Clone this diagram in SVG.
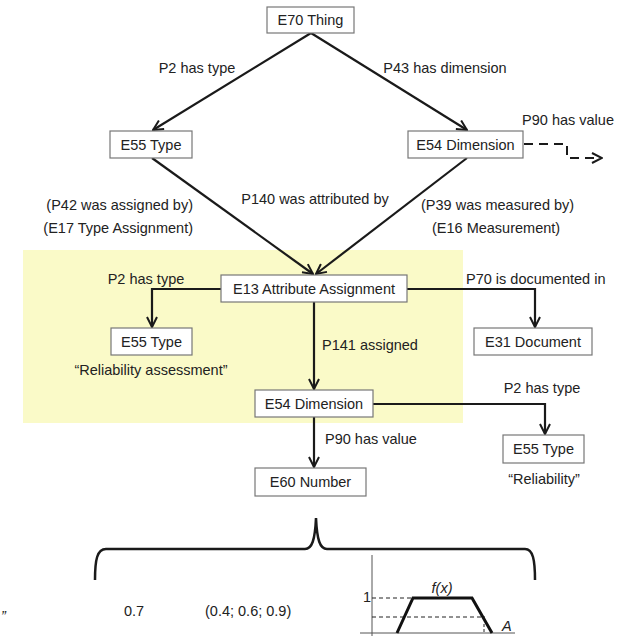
<svg xmlns="http://www.w3.org/2000/svg" width="627" height="636" viewBox="0 0 627 636">
<style>
text{font-family:"Liberation Sans",Arial,sans-serif;font-size:14.5px;fill:#222}
.box{fill:#fff;stroke:#777;stroke-width:1.2}
.c{text-anchor:middle}
.e{text-anchor:end}
.ln{fill:none;stroke:#1a1a1a;stroke-width:2.2}
.dash{fill:none;stroke:#1a1a1a;stroke-width:2;stroke-dasharray:9,6}
</style>
<defs>
<marker id="arr" viewBox="0 0 12 12" refX="11" refY="6" markerWidth="12" markerHeight="12" orient="auto" markerUnits="userSpaceOnUse">
<path d="M1,1 L11,6 L1,11" fill="none" stroke="#1a1a1a" stroke-width="2"/>
</marker>
</defs>
<rect width="627" height="636" fill="#fff"/>
<rect x="23" y="250" width="440" height="173" fill="#fafac8"/>

<g id="connectors">
<line class="ln" x1="311" y1="33" x2="153" y2="130" marker-end="url(#arr)"/>
<line class="ln" x1="311" y1="33" x2="467" y2="130" marker-end="url(#arr)"/>
<line class="ln" x1="152" y1="158" x2="313" y2="274" marker-end="url(#arr)"/>
<line class="ln" x1="467" y1="158" x2="316" y2="274" marker-end="url(#arr)"/>
<path class="ln" d="M221,289 H152 V327" marker-end="url(#arr)"/>
<path class="ln" d="M407,289 H535 V327" marker-end="url(#arr)"/>
<path class="ln" d="M314,302 V389" marker-end="url(#arr)"/>
<path class="ln" d="M373,404 H545 V434" marker-end="url(#arr)"/>
<path class="ln" d="M314,417 V467" marker-end="url(#arr)"/>
<path class="dash" d="M524,144 H567 V158 H602" marker-end="url(#arr)"/>
</g>

<g id="labels">
<text class="c" x="197" y="73">P2 has type</text>
<text class="c" x="445" y="73">P43 has dimension</text>
<text class="c" x="568" y="125">P90 has value</text>
<text class="c" x="315" y="204">P140 was attributed by</text>
<text class="e" x="193" y="210">(P42 was assigned by)</text>
<text class="e" x="193" y="233">(E17 Type Assignment)</text>
<text x="421" y="210">(P39 was measured by)</text>
<text x="432" y="233">(E16 Measurement)</text>
<text class="c" x="146" y="284">P2 has type</text>
<text x="466" y="284">P70 is documented in</text>
<text x="322" y="350">P141 assigned</text>
<text class="c" x="542" y="393">P2 has type</text>
<text x="325" y="444">P90 has value</text>
</g>

<g id="e70"><rect class="box" x="267" y="7" width="87" height="26"/><text class="c" x="310.5" y="25">E70 Thing</text></g>
<g id="e55a"><rect class="box" x="110" y="131" width="82" height="27"/><text class="c" x="151" y="150">E55 Type</text></g>
<g id="e54a"><rect class="box" x="408" y="131" width="115" height="27"/><text class="c" x="465.5" y="150">E54 Dimension</text></g>
<g id="e13"><rect class="box" x="221" y="275" width="186" height="27"/><text class="c" x="314" y="294">E13 Attribute Assignment</text></g>
<g id="e55b"><rect class="box" x="111" y="328" width="81" height="27"/><text class="c" x="151.5" y="347">E55 Type</text><text class="c" x="151" y="375">“Reliability assessment”</text></g>
<g id="e31"><rect class="box" x="474" y="328" width="118" height="27"/><text class="c" x="533" y="347">E31 Document</text></g>
<g id="e54b"><rect class="box" x="255" y="390" width="118" height="27"/><text class="c" x="314" y="409">E54 Dimension</text></g>
<g id="e55c"><rect class="box" x="503" y="435" width="81" height="28"/><text class="c" x="543.5" y="454">E55 Type</text><text class="c" x="544" y="484">“Reliability”</text></g>
<g id="e60"><rect class="box" x="255" y="468" width="111" height="28"/><text class="c" x="310.5" y="487">E60 Number</text></g>

<g id="bottom">
<path d="M95,580 C95,560 97,549 106,549 H305 C312,549 315,540 316,518 C317,540 320,549 327,549 H525 C533,549 535,560 535,580" fill="none" stroke="#1a1a1a" stroke-width="2.5"/>
<text x="1" y="621" font-size="18" font-style="italic">”</text>
<text x="124" y="616" font-size="13">0.7</text>
<text x="205" y="616" font-size="13">(0.4; 0.6; 0.9)</text>
<line x1="372" y1="555" x2="372" y2="636" stroke="#555" stroke-width="1"/>
<line x1="360" y1="633" x2="515" y2="633" stroke="#555" stroke-width="1"/>
<line x1="372" y1="598" x2="413" y2="598" stroke="#222" stroke-width="1" stroke-dasharray="4,3"/>
<line x1="372" y1="617" x2="485" y2="617" stroke="#222" stroke-width="1" stroke-dasharray="4,3"/>
<line x1="484" y1="624" x2="484" y2="632" stroke="#222" stroke-width="1" stroke-dasharray="3,2"/>
<path d="M397,633 L413,598 H472 L492,633" fill="none" stroke="#111" stroke-width="3"/>
<text x="363" y="602" font-size="10">1</text>
<text x="442" y="593" font-size="10" font-style="italic" class="c">f(x)</text>
<text x="502" y="631" font-size="12" font-style="italic">A</text>
</g>
</svg>
